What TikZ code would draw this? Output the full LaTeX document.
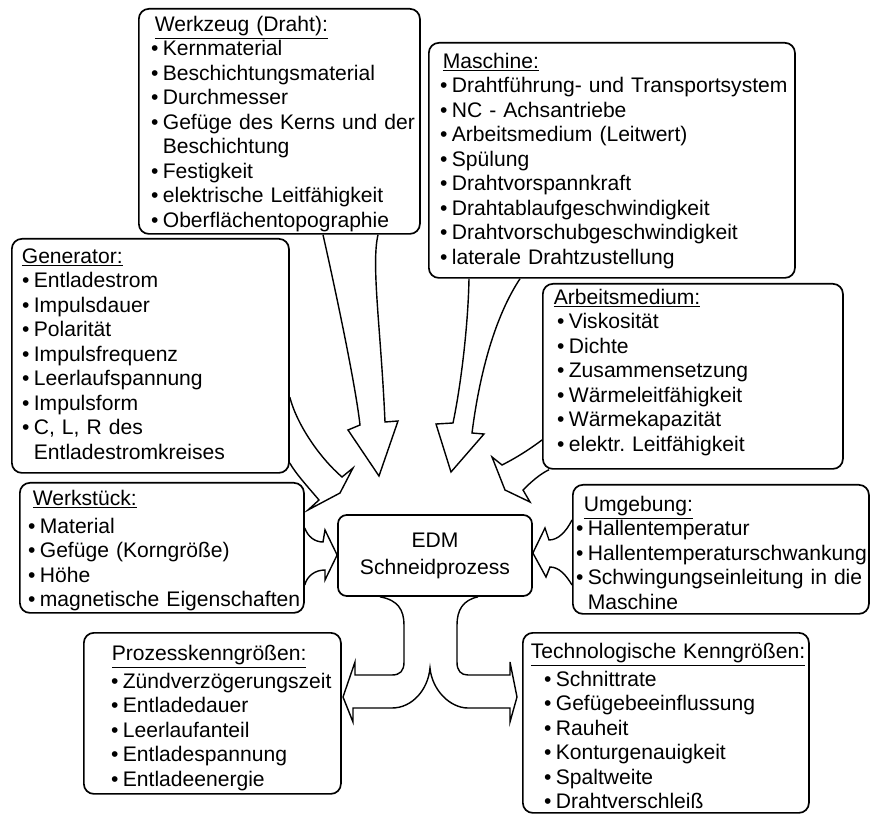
\documentclass[tikz,border=0pt]{standalone}
\usepackage{fontspec}
\setmainfont{Liberation Sans}
\usepackage{tikz}
\frenchspacing

\newcommand{\titel}[2][0cm]{\mbox{\hspace*{#1}\underline{#2}}}
\newcommand{\itm}[2][0cm]{\mbox{\hspace*{#1}\makebox[0.3cm][c]{•}\hspace{0.05cm}#2}}
\newcommand{\weiter}[2][0cm]{\mbox{\hspace*{#1}\hspace*{0.35cm}#2}}

\begin{document}
\begin{tikzpicture}[
	x=0.025cm, y=-0.025cm,
	kasten/.style={draw, rounded corners=0.25cm, line width=1.2pt, anchor=north west,
		align=left, inner ysep=0pt, font=\fontsize{15pt}{17.4pt}\selectfont},
	pfeil/.style={draw, line width=1pt, line join=miter}
	]
	\useasboundingbox (0,0) rectangle (871,814);
	
	% Mitte
	\node[draw, rounded corners=0.22cm, line width=1.2pt, minimum width=4.85cm, minimum height=2.025cm,
		align=center, font=\fontsize{15pt}{17.4pt}\selectfont] (edm) at (435,555.5) {EDM\\[1.8pt]Schneidprozess};
	
	% Einflussgroessen
	\node[kasten, inner xsep=0.25cm, text width=6.525cm, text height=0.565cm, text depth=5.06cm] (wz) at (138,8) {
		\titel[0.15cm]{Werkzeug (Draht):}\\
		\itm{Kernmaterial}\\
		\itm{Beschichtungsmaterial}\\
		\itm{Durchmesser}\\
		\itm{Gefüge des Kerns und der}\\
		\weiter{Beschichtung}\\
		\itm{Festigkeit}\\
		\itm{elektrische Leitfähigkeit}\\
		\itm{Oberflächentopographie}
	};
	
	\node[kasten, inner xsep=0.225cm, text width=8.7cm, text height=0.64cm, text depth=5.235cm] (ma) at (428,42) {
		\titel[0.125cm]{Maschine:}\\
		\itm{Drahtführung- und Transportsystem}\\
		\itm{NC - Achsantriebe}\\
		\itm{Arbeitsmedium (Leitwert)}\\
		\itm{Spülung}\\
		\itm{Drahtvorspannkraft}\\
		\itm{Drahtablaufgeschwindigkeit}\\
		\itm{Drahtvorschubgeschwindigkeit}\\
		\itm{laterale Drahtzustellung}
	};
	
	\node[kasten, inner xsep=0.2cm, text width=6.525cm, text height=0.615cm, text depth=5.235cm] (gen) at (11,238) {
		\titel[0.05cm]{Generator:}\\
		\itm{Entladestrom}\\
		\itm{Impulsdauer}\\
		\itm{Polarität}\\
		\itm{Impulsfrequenz}\\
		\itm{Leerlaufspannung}\\
		\itm{Impulsform}\\
		\itm{C, L, R des}\\
		\weiter{Entladestromkreises}
	};
	
	\node[kasten, inner xsep=0.275cm, text width=6.95cm, text height=0.515cm, text depth=4.11cm] (am) at (542,283) {
		\titel{Arbeitsmedium:}\\
		\itm[0.025cm]{Viskosität}\\
		\itm[0.025cm]{Dichte}\\
		\itm[0.025cm]{Zusammensetzung}\\
		\itm[0.025cm]{Wärmeleitfähigkeit}\\
		\itm[0.025cm]{Wärmekapazität}\\
		\itm[0.025cm]{elektr. Leitfähigkeit}
	};
	
	\node[kasten, inner xsep=0.15cm, text width=6.8cm, text height=0.565cm, text depth=2.685cm] (ws) at (19,482) {
		\titel[0.175cm]{Werkstück:}\\[2.5pt]
		\itm{Material}\\
		\itm{Gefüge (Korngröße)}\\
		\itm{Höhe}\\
		\itm{magnetische Eigenschaften}
	};
	
	\node[kasten, inner xsep=0.025cm, text width=7.35cm, text height=0.665cm, text depth=2.56cm] (ug) at (572,484) {
		\titel[0.25cm]{Umgebung:}\\
		\itm{Hallentemperatur}\\
		\itm{Hallentemperaturschwankung}\\
		\itm{Schwingungseinleitung in die}\\
		\weiter{Maschine}
	};
	
	% Kenngroessen
	\node[kasten, inner xsep=0.625cm, text width=5.175cm, text height=0.69cm, text depth=3.335cm] (pk) at (83,632) {
		\titel[0.075cm]{Prozesskenngrößen:}\\[2.5pt]
		\itm{Zündverzögerungszeit}\\
		\itm{Entladedauer}\\
		\itm{Leerlaufanteil}\\
		\itm{Entladespannung}\\
		\itm{Entladeenergie}
	};
	
	\node[kasten, inner xsep=0.2cm, text width=6.75cm, text height=0.64cm, text depth=3.86cm] (tk) at (522,632) {
		\titel{Technologische Kenngrößen:}\\[2.5pt]
		\itm[0.275cm]{Schnittrate}\\
		\itm[0.275cm]{Gefügebeeinflussung}\\
		\itm[0.275cm]{Rauheit}\\
		\itm[0.275cm]{Konturgenauigkeit}\\
		\itm[0.275cm]{Spaltweite}\\
		\itm[0.275cm]{Drahtverschleiß}
	};
	
	% Pfeile zum Prozess
	\draw[pfeil] (323,0 |- wz.south) .. controls (331,270) and (355,380) .. (360,425)
		-- (348,430) -- (379,476) -- (398,421) -- (385,422)
		.. controls (381,330) and (371,265) .. (378,0 |- wz.south);
	
	\draw[pfeil] (469,0 |- ma.south) .. controls (468,330) and (460,390) .. (453,423)
		-- (436,424) -- (451,472) -- (484,434) -- (472,433)
		.. controls (480,370) and (496,315) .. (520,0 |- ma.south);
	
	\draw[pfeil] (gen.east |- 0,397) .. controls (297,425) and (320,458) .. (342,477)
		-- (353,468) -- (340,493) -- (308,510) -- (319,500)
		.. controls (308,487) and (296,474) .. (gen.east |- 0,463);
	
	\draw[pfeil] (am.west |- 0,440) .. controls (526,452) and (512,460) .. (502,465)
		-- (492,457) -- (505,490) -- (530,502) -- (523,490)
		.. controls (531,482) and (540,474) .. (549,0 |- am.south);
	
	\draw[pfeil] (ws.east |- 0,528) .. controls (308,537) and (315,542) .. (323,542)
		-- (325,530) -- (edm.west |- 0,555) -- (325,580) -- (325,570)
		.. controls (315,570) and (307,576) .. (ws.east |- 0,585);
	
	\draw[pfeil] (ug.west |- 0,520) .. controls (566,532) and (558,540) .. (549,540)
		-- (545,528) -- (edm.east |- 0,553) -- (546,577) -- (550,567)
		.. controls (559,567) and (566,575) .. (ug.west |- 0,585);
	
	% Pfeil zu den Kenngroessen
	\draw[pfeil] (380,0 |- edm.south) .. controls (398,600) and (404,610) .. (404,625) -- (404,662)
		.. controls (404,671) and (400,675) .. (392,675) -- (355,675) -- (355,662) -- (343,697)
		-- (353,722) -- (353,708) -- (392,708) .. controls (412,708) and (428,690) .. (430,668)
		.. controls (432,690) and (450,708) .. (468,708) -- (510,708) -- (510,722) -- (517,697)
		-- (510,662) -- (510,675) -- (468,675) .. controls (461,675) and (457,671) .. (457,662)
		-- (457,625) .. controls (457,610) and (463,600) .. (478,0 |- edm.south);
	
\end{tikzpicture}
\end{document}
